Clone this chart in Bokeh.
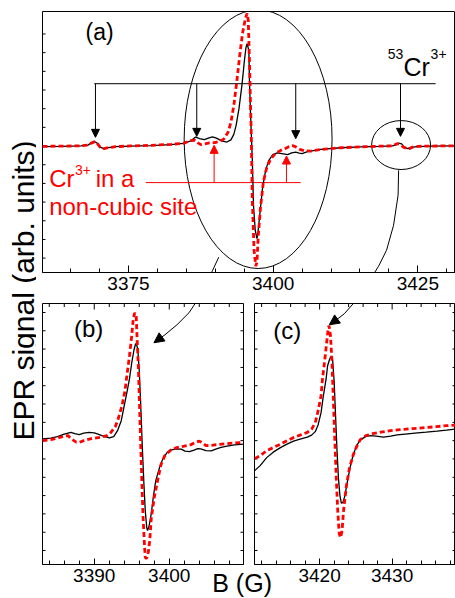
import math
from bokeh.plotting import figure
from bokeh.models import Range1d, FixedTicker, Label, Arrow, NormalHead
from bokeh.layouts import column, row
from bokeh.embed import file_html
from bokeh.resources import INLINE

FONT = "Liberation Sans"
RED = "#ff0000"

# ---------------- panel (a) data: field B (G), EPR signal (arb. units) ----------------
a_B_black = [3360.15, 3363.3, 3366.8, 3368.0, 3368.6, 3369.1, 3369.6, 3370.1, 3370.8, 3371.5,
             3372.8, 3375.4, 3378.9, 3382.3, 3384.5, 3385.8, 3386.6, 3387.3, 3388.1, 3388.8,
             3389.5, 3390.2, 3391.1, 3392.0, 3392.7, 3393.2, 3393.6, 3394.1, 3394.6, 3395.0,
             3395.3, 3395.5, 3395.8, 3395.9, 3396.1, 3396.4, 3396.6, 3396.9, 3397.2, 3397.4,
             3397.8, 3398.2, 3398.7, 3399.2, 3399.9, 3400.7, 3401.5, 3402.5, 3403.2, 3403.9,
             3404.5, 3405.0, 3405.8, 3406.5, 3408.2, 3411.7, 3415.1, 3418.6, 3420.6, 3421.2,
             3421.7, 3422.2, 3422.6, 3423.2, 3423.7, 3424.8, 3427.2, 3431.5]
a_S_black = [-0.6, -0.3, 0.1, 0.9, 3.2, 4.5, 2.9, -1.1, -2.6, -1.6,
             -0.6, 0.0, 0.5, 1.4, 2.7, 5.2, 9.0, 7.5, 6.4, 7.9,
             9.2, 7.9, 5.2, 4.0, 6.2, 11.7, 20.7, 37.7, 60.7, 83.7,
             98.7, 102.4, 95.7, 65.7, 30.7, -14.3, -59.3, -84.3, -92.6, -85.3,
             -62.3, -40.3, -24.3, -14.8, -8.8, -6.8, -7.6, -8.6, -6.8, -6.0,
             -7.1, -7.6, -5.8, -5.0, -3.3, -1.7, -0.9, -0.3, 0.1, 1.2,
             3.0, 2.2, -0.8, -2.6, -1.6, -0.5, -0.1, 0.1]
a_B_red = [3360.15, 3363.3, 3366.8, 3368.0, 3368.6, 3369.1, 3369.6, 3370.1, 3370.8, 3371.5,
           3372.8, 3375.4, 3378.9, 3382.3, 3384.5, 3385.8, 3386.5, 3387.0, 3387.5, 3388.2,
           3389.0, 3389.9, 3390.8, 3391.5, 3392.2, 3392.7, 3393.2, 3393.7, 3394.2, 3394.7,
           3395.2, 3395.5, 3395.7, 3395.9, 3396.2, 3396.4, 3396.7, 3397.0, 3397.2, 3397.4,
           3397.8, 3398.3, 3398.9, 3399.6, 3400.4, 3401.3, 3402.0, 3402.7, 3403.3, 3403.9,
           3404.6, 3405.4, 3406.5, 3408.2, 3411.7, 3415.1, 3418.6, 3420.6, 3421.0, 3421.4,
           3422.0, 3422.5, 3423.1, 3423.5, 3424.1, 3425.1, 3427.2, 3431.5]
a_S_red = [-0.3, -0.1, 0.2, 0.9, 2.9, 4.2, 2.7, -1.1, -2.6, -1.6,
           -0.6, 0.1, 0.7, 1.7, 2.7, 5.5, 5.7, 3.2, 1.4, 2.2,
           3.1, 3.4, 4.7, 7.2, 13.7, 23.7, 40.7, 63.7, 89.7, 112.7,
           127.7, 132.7, 125.7, 85.7, 15.7, -54.3, -104.3, -120.3, -116.3, -92.3,
           -62.3, -36.3, -21.3, -12.8, -7.3, -4.3, -2.6, -0.6, 0.5, -0.8,
           -3.3, -4.8, -5.0, -3.5, -1.7, -0.8, -0.1, 0.2, 1.2, 2.4,
           1.4, -1.1, -2.5, -2.6, -1.1, -0.3, 0.0, 0.2]
a_xticks = [3375, 3400, 3425]
a_xminor = [3365, 3370, 3380, 3385, 3390, 3395, 3405, 3410, 3415, 3420, 3430]
a_yticks = [-112.2, -93.5, -74.8, -56.1, -37.4, -18.7, 0, 18.7, 37.4, 56.1, 74.8, 93.5, 112.2]

# line positions (53Cr hyperfine quartet and non-cubic Cr3+ lines)
hf_B = [3369.3, 3386.8, 3403.9, 3422.0]
hf_tip = [8.7, 9.7, 7.4, 9.7]
hf_bar_y = 62.4
hf_bar_x = [3369.1, 3428.06]
nc_B = [3389.8, 3402.3]
nc_tip = [0.7, -10.0]
nc_bar_y = -36.6
nc_bar_x = [3378.0, 3404.75]

# ---------------- panel (b) data ----------------
b_B_black = [3383.1, 3384.2, 3385.1, 3386.0, 3386.9, 3387.4, 3388.0, 3388.6, 3389.3, 3390.0,
             3390.5, 3391.2, 3392.0, 3392.6, 3393.1, 3393.6, 3394.0, 3394.4, 3394.7, 3395.0,
             3395.3, 3395.5, 3395.6, 3395.8, 3396.0, 3396.2, 3396.4, 3396.6, 3396.8, 3397.0,
             3397.1, 3397.3, 3397.6, 3397.9, 3398.2, 3398.7, 3399.1, 3399.7, 3400.2, 3400.9,
             3401.6, 3402.1, 3402.7, 3403.3, 3403.8, 3404.2, 3404.9, 3405.6, 3406.2, 3406.9,
             3407.7, 3408.7, 3409.9]
b_S_black = [1.7, 2.5, 4.0, 6.5, 8.3, 7.0, 6.0, 7.5, 8.3, 7.8,
             6.5, 4.5, 2.7, 4.0, 10.0, 20.0, 35.0, 50.0, 62.0, 78.0,
             91.0, 96.5, 97.3, 92.0, 70.0, 35.0, -5.0, -40.0, -70.0, -87.0,
             -90.0, -86.0, -73.0, -55.0, -40.0, -27.0, -19.0, -12.0, -9.5, -8.3,
             -8.5, -10.5, -11.0, -9.5, -8.0, -8.3, -10.0, -10.3, -8.5, -6.7,
             -5.5, -4.3, -3.5]
b_B_red = [3383.1, 3384.2, 3385.1, 3386.0, 3386.5, 3387.0, 3387.6, 3388.0, 3388.6, 3389.6,
           3390.9, 3391.7, 3392.2, 3392.8, 3393.2, 3393.7, 3394.1, 3394.4, 3394.7, 3395.0,
           3395.2, 3395.4, 3395.6, 3395.7, 3395.9, 3396.1, 3396.3, 3396.5, 3396.7, 3396.8,
           3397.0, 3397.2, 3397.4, 3397.6, 3398.0, 3398.5, 3398.9, 3399.4, 3400.2, 3401.0,
           3402.0, 3402.9, 3403.6, 3404.0, 3404.4, 3404.9, 3405.6, 3406.5, 3407.6, 3408.6,
           3409.9]
b_S_red = [0.0, 1.0, 2.5, 4.5, 5.0, 1.5, -1.5, -1.7, 0.0, 2.0,
           3.5, 5.0, 8.0, 14.0, 22.0, 35.0, 50.0, 68.0, 85.0, 105.0,
           122.0, 128.0, 124.0, 105.0, 70.0, 20.0, -30.0, -75.0, -105.0, -117.0,
           -118.0, -112.0, -100.0, -78.0, -57.0, -38.0, -24.0, -15.0, -9.5, -7.0,
           -5.5, -4.0, -1.5, -0.5, -2.0, -5.0, -4.7, -3.8, -3.0, -2.3,
           -1.7]
b_xticks = [3390, 3400]
b_xminor = [3384, 3386, 3388, 3392, 3394, 3396, 3398, 3402, 3404, 3406, 3408]

# ---------------- panel (c) data ----------------
c_B_black = [3411.05, 3411.8, 3412.7, 3413.6, 3414.6, 3415.5, 3416.4, 3417.3, 3418.3, 3418.9,
             3419.4, 3419.8, 3420.2, 3420.5, 3420.9, 3421.1, 3421.4, 3421.6, 3421.8, 3422.0,
             3422.2, 3422.4, 3422.6, 3422.8, 3423.0, 3423.2, 3423.5, 3423.8, 3424.2, 3424.6,
             3425.1, 3425.6, 3426.3, 3427.0, 3427.8, 3428.8, 3429.8, 3430.7, 3431.8, 3433.5,
             3434.7, 3436.2, 3437.5, 3438.7]
c_S_black = [-30.0, -25.0, -17.0, -11.5, -7.0, -3.5, -0.5, 1.5, 3.5, 5.5,
             9.0, 16.0, 28.0, 44.0, 62.0, 75.0, 82.0, 84.5, 80.0, 60.0,
             25.0, -10.0, -38.0, -55.0, -62.5, -62.0, -55.0, -42.0, -27.0, -15.0,
             -5.0, 0.5, 4.0, 5.0, 4.5, 3.5, 4.5, 5.7, 6.5, 7.8,
             8.5, 9.5, 10.5, 11.5]
c_B_red = [3411.05, 3411.8, 3412.7, 3413.6, 3414.6, 3415.5, 3416.4, 3417.3, 3418.3, 3418.9,
           3419.4, 3419.8, 3420.2, 3420.4, 3420.7, 3421.0, 3421.2, 3421.3, 3421.5, 3421.7,
           3421.9, 3422.1, 3422.3, 3422.5, 3422.7, 3422.9, 3423.1, 3423.3, 3423.7, 3424.1,
           3424.6, 3425.1, 3425.6, 3426.4, 3427.3, 3428.4, 3429.8, 3431.1, 3432.8, 3434.5,
           3436.1, 3437.5, 3438.7]
c_S_red = [-18.0, -15.0, -10.0, -7.0, -3.5, 0.0, 3.0, 5.5, 8.3, 11.5,
           18.0, 30.0, 45.0, 62.0, 80.0, 100.0, 113.0, 115.0, 105.0, 80.0,
           40.0, 0.0, -38.0, -70.0, -93.0, -97.0, -90.0, -70.0, -45.0, -28.0,
           -15.0, -6.0, 1.0, 5.0, 7.0, 8.5, 10.0, 11.0, 12.0, 13.0,
           14.0, 15.0, 15.5]
c_xticks = [3420, 3430]
c_xminor = [3412, 3414, 3416, 3418, 3422, 3424, 3426, 3428, 3432, 3434, 3436, 3438]

bc_yticks = [-110, -91.7, -73.3, -55, -36.7, -18.3, 0, 18.3, 36.7, 55, 73.3, 91.7, 110, 128.3]

# connector curves: part in panel (a) coordinates, part in (b) / (c) coordinates
conn1_a_B = [3390.6, 3389.55, 3388.5, 3387.1, 3386.45]
conn1_a_S = [-111.3, -124.3, -136.3, -151.3, -157.3]
conn1_b_B = [3403.96, 3402.63, 3401.03, 3399.43, 3397.96]
conn1_b_S = [143.0, 128.0, 116.0, 106.0, 98.0]
conn2_a_B = [3421.67, 3421.58, 3420.80, 3419.59, 3418.21, 3416.49, 3414.59, 3412.34]
conn2_a_S = [-24.3, -49.3, -79.3, -104.3, -120.3, -136.3, -152.3, -167.3]
conn2_c_B = [3425.21, 3423.41, 3422.31, 3421.34]
conn2_c_S = [142.0, 127.0, 121.0, 116.0]


def clean(p):
    p.xgrid.visible = False
    p.ygrid.visible = False
    p.outline_line_color = "black"
    p.outline_line_width = 1
    p.outline_line_alpha = 1


def style_xaxis(ax, ticks, minor, major_in, minor_in):
    ax.ticker = FixedTicker(ticks=ticks, minor_ticks=minor)
    ax.axis_line_color = "black"
    ax.major_tick_line_color = "black"
    ax.minor_tick_line_color = "black"
    ax.major_tick_in = major_in
    ax.major_tick_out = 0
    ax.minor_tick_in = minor_in
    ax.minor_tick_out = 0
    ax.major_label_text_font = FONT
    ax.major_label_text_color = "black"
    ax.major_label_text_font_size = "19px"
    ax.major_label_standoff = 4


def side_ticks(p, xr, yr, yticks, top_major=None, top_minor=None, right=True):
    """unlabelled inward ticks drawn on the frame edges (outer half clipped by the frame)"""
    n = len(yticks)
    p.dash(x=[xr.start] * n, y=yticks, size=6, line_color="black", line_width=1)
    if right:
        p.dash(x=[xr.end] * n, y=yticks, size=6, line_color="black", line_width=1)
    if top_major is not None:
        p.dash(x=top_major, y=[yr.end] * len(top_major), size=12, angle=math.pi / 2,
               line_color="black", line_width=1)
        p.dash(x=top_minor, y=[yr.end] * len(top_minor), size=7, angle=math.pi / 2,
               line_color="black", line_width=1)


def lab(p, x, y, text, size, color="black", angle=0.0, align="left", baseline="alphabetic"):
    p.add_layout(Label(x=x, y=y, text=text, text_font=FONT,
                       text_font_size=size, text_color=color, angle=angle, text_align=align,
                       text_baseline=baseline))


def polyline_arrows(p, xs, ys, head=None, color="black"):
    n = len(xs) - 1
    for i in range(n):
        end = head if (head is not None and i == n - 1) else None
        p.add_layout(Arrow(end=end, x_start=xs[i], y_start=ys[i], x_end=xs[i + 1],
                           y_end=ys[i + 1], line_color=color, line_width=1))


def text_box(width, height, **kw):
    p = figure(width=width, height=height, x_range=Range1d(0, 1), y_range=Range1d(0, 1),
               x_axis_type=None, y_axis_type=None, min_border=0,
               background_fill_color=None, border_fill_color=None,
               output_backend="svg", toolbar_location=None, **kw)
    p.xgrid.visible = False
    p.ygrid.visible = False
    p.outline_line_color = None
    return p


# ================= y-axis title strip =================
strip = text_box(36, 598)
lab(strip, 0.65, 0.515, "EPR signal (arb. units)", "30px", angle=math.pi / 2,
    align="center", baseline="middle")

# ================= panel (a) =================
xa = Range1d(3360.15, 3431.5)
ya = Range1d(-126.6, 134.7)
pa = figure(frame_width=413, frame_height=261, min_border_left=6, min_border_right=0,
            min_border_top=11, min_border_bottom=28, x_range=xa, y_range=ya,
            y_axis_type=None, output_backend="svg", toolbar_location=None)
clean(pa)
style_xaxis(pa.xaxis[0], a_xticks, a_xminor, 7, 4)
side_ticks(pa, xa, ya, a_yticks, right=False)

pa.ellipse(x=[3397.4], y=[6.9], width=[25.55], height=[259], fill_color=None,
           line_color="black", line_width=1)
pa.ellipse(x=[3422.1], y=[1.0], width=[10.19], height=[49], fill_color=None,
           line_color="black", line_width=1)

pa.segment(x0=[hf_bar_x[0]], y0=[hf_bar_y], x1=[hf_bar_x[1]], y1=[hf_bar_y],
           line_color="black", line_width=1)
for xb, yt in zip(hf_B, hf_tip):
    pa.add_layout(Arrow(end=NormalHead(size=8, fill_color="black", line_color="black"),
                        x_start=xb, y_start=hf_bar_y, x_end=xb, y_end=yt,
                        line_color="black", line_width=1))
pa.segment(x0=[nc_bar_x[0]], y0=[nc_bar_y], x1=[nc_bar_x[1]], y1=[nc_bar_y],
           line_color=RED, line_width=1)
for xb, yt in zip(nc_B, nc_tip):
    pa.add_layout(Arrow(end=NormalHead(size=8, fill_color=RED, line_color=RED),
                        x_start=xb, y_start=nc_bar_y, x_end=xb, y_end=yt,
                        line_color=RED, line_width=1))

pa.line(a_B_black, a_S_black, line_color="black", line_width=1.3)
pa.line(a_B_red, a_S_red, line_color=RED, line_width=2.8, line_dash="5 3")

polyline_arrows(pa, conn1_a_B, conn1_a_S)
polyline_arrows(pa, conn2_a_B, conn2_a_S)

lab(pa, 3367.6, 113.7, "(a)", "23px")
lab(pa, 3419.8, 92.2, "53", "14px")
lab(pa, 3422.5, 78.7, "Cr", "25px")
lab(pa, 3427.2, 92.2, "3+", "14px")
lab(pa, 3361.3, -32.8, "Cr", "24px", RED)
lab(pa, 3365.75, -24.3, "3+", "14px", RED)
lab(pa, 3369.35, -32.8, "in a", "24px", RED)
lab(pa, 3361.3, -61.0, "non-cubic site", "24px", RED)

# ================= panel (b) =================
xb_r = Range1d(3383.1, 3409.9)
yb_r = Range1d(-124, 137.3)
pb = figure(frame_width=201, frame_height=261, min_border_left=6, min_border_right=3,
            min_border_top=3, min_border_bottom=34, x_range=xb_r, y_range=yb_r,
            y_axis_type=None, output_backend="svg", toolbar_location=None,
            background_fill_color=None, border_fill_color=None)
clean(pb)
style_xaxis(pb.xaxis[0], b_xticks, b_xminor, 6, 4)
side_ticks(pb, xb_r, yb_r, bc_yticks, b_xticks, b_xminor)
pb.line(b_B_black, b_S_black, line_color="black", line_width=1.3)
pb.line(b_B_red, b_S_red, line_color=RED, line_width=2.8, line_dash="5 3")
pb.line(conn1_b_B[:-1], conn1_b_S[:-1], line_color="black", line_width=1)
pb.add_layout(Arrow(end=NormalHead(size=10, fill_color="black", line_color="black"),
                    x_start=conn1_b_B[-2], y_start=conn1_b_S[-2],
                    x_end=conn1_b_B[-1], y_end=conn1_b_S[-1],
                    line_color="black", line_width=1))
lab(pb, 3387.3, 112, "(b)", "24px")

# ================= panel (c) =================
xc_r = Range1d(3411.02, 3438.74)
yc_r = Range1d(-124, 137.3)
pc = figure(frame_width=201, frame_height=261, min_border_left=8, min_border_right=0,
            min_border_top=3, min_border_bottom=34, x_range=xc_r, y_range=yc_r,
            y_axis_type=None, output_backend="svg", toolbar_location=None,
            background_fill_color=None, border_fill_color=None)
clean(pc)
style_xaxis(pc.xaxis[0], c_xticks, c_xminor, 6, 4)
side_ticks(pc, xc_r, yc_r, bc_yticks, c_xticks, c_xminor)
pc.line(c_B_black, c_S_black, line_color="black", line_width=1.3)
pc.line(c_B_red, c_S_red, line_color=RED, line_width=2.8, line_dash="5 3")
pc.line(conn2_c_B[:-1], conn2_c_S[:-1], line_color="black", line_width=1)
pc.add_layout(Arrow(end=NormalHead(size=10, fill_color="black", line_color="black"),
                    x_start=conn2_c_B[-2], y_start=conn2_c_S[-2],
                    x_end=conn2_c_B[-1], y_end=conn2_c_S[-1],
                    line_color="black", line_width=1))
lab(pc, 3413.6, 110, "(c)", "24px")

# ================= shared x-axis title, straddling panels (b) and (c) =================
xtitle = text_box(75, 80, margin=(-80, 0, 0, 205))
lab(xtitle, 0.09, 0.2, "B (G)", "25px")

main = row(strip, column(pa, row(pb, pc)))
layout = column(main, xtitle)

with open("out.html", "w") as f:
    f.write(file_html(layout, INLINE))
